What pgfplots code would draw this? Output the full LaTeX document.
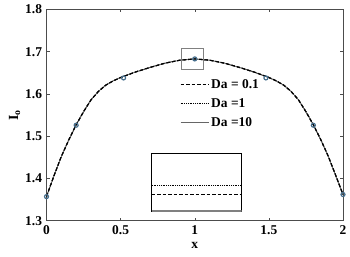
\documentclass[border=0pt]{standalone}
\usepackage{pgfplots}
\pgfplotsset{compat=1.18}
\usepackage{fontspec}
\setmainfont{Liberation Serif}
\definecolor{mk}{RGB}{70,110,140}
\pgfplotstableread{
x y
0 1.357
0.05 1.406
0.1 1.452
0.15 1.491
0.2 1.527
0.25 1.558
0.3 1.586
0.35 1.606
0.4 1.621
0.45 1.631
0.5 1.639
0.6 1.652
0.7 1.663
0.8 1.673
0.9 1.680
1.0 1.683
1.1 1.680
1.2 1.673
1.3 1.663
1.4 1.652
1.5 1.639
1.55 1.631
1.6 1.621
1.65 1.606
1.7 1.586
1.75 1.558
1.8 1.527
1.85 1.492
1.9 1.453
1.95 1.408
2.0 1.362
}\curve
\pgfplotstableread{
x y
0 1.357
0.2 1.526
0.52 1.638
1.0 1.683
1.48 1.638
1.8 1.526
2.0 1.362
}\marks
\begin{document}
\begin{tikzpicture}
\begin{axis}[
  name=main, at={(0,0)}, anchor=south west,
  scale only axis, width=296.5bp, height=211.2bp,
  xmin=0, xmax=2, ymin=1.3, ymax=1.8,
  xtick={0,0.5,1,1.5,2}, ytick={1.3,1.4,1.5,1.6,1.7,1.8},
  xticklabels={0,0.5,1,1.5,2},
  yticklabels={1.3,1.4,1.5,1.6,1.7,1.8},
  tick align=inside, major tick length=3bp,
  tick style={black!70, line width=0.5bp},
  axis line style={black!70, line width=0.7bp},
  ticklabel style={font=\fontsize{13.5}{15}\selectfont\bfseries},
  xticklabel style={yshift=-1bp},
  yticklabel style={xshift=-1bp},
  xlabel={\fontsize{13.5}{15}\selectfont\bfseries x},
  ylabel={\fontsize{14}{15}\selectfont\bfseries I$_{\mathbf{o}}$},
  xlabel style={yshift=-1bp},
  ylabel style={yshift=-2bp},
  legend style={draw=none, fill=none, at={(0.45,0.68)}, anchor=north west,
    font=\fontsize{13.5}{15}\selectfont\bfseries, row sep=4.5bp, inner sep=0pt},
  legend cell align=left,
  legend image code/.code={\draw[#1] (0bp,0bp) -- (28bp,0bp);},
]
\addplot[black, line width=1.1bp, dash pattern=on 3.5bp off 2bp] table {\curve};
\addlegendentry{Da = 0.1}
\addplot[black, line width=1bp, dash pattern=on 0.9bp off 0.9bp] table {\curve};
\addlegendentry{Da =1}
\addplot[black!60, line width=0.6bp] table {\curve};
\addlegendentry{Da =10}
\addplot[black, line width=1.1bp, dash pattern=on 3.5bp off 2bp, forget plot] table {\curve};
\addplot[only marks, mark=o, mark size=2bp, mark options={draw=mk, line width=1.2bp, fill=mk!40}, forget plot] table {\marks};
\draw[black!50, line width=0.6bp] (axis cs:0.912,1.658) rectangle (axis cs:1.061,1.708);
\end{axis}
\begin{axis}[
  at={(main.south west)}, anchor=south west,
  xshift=105.2bp, yshift=9bp,
  scale only axis, width=90bp, height=58.4bp,
  xmin=0.95, xmax=1.05, ymin=1.6820, ymax=1.6840,
  xtick=\empty, ytick=\empty,
  axis line style={black, line width=0.6bp},
  axis background/.style={fill=white},
]
\addplot[black!50, line width=1.4bp] coordinates {(0.95,1.68203) (1.05,1.68203)};
\addplot[black, line width=1.1bp, dash pattern=on 3.5bp off 2bp] coordinates {(0.95,1.68260) (1.05,1.68260)};
\addplot[black, line width=1bp, dash pattern=on 0.9bp off 0.9bp] coordinates {(0.95,1.68289) (1.05,1.68289)};
\end{axis}
\pgfresetboundingbox
\path[use as bounding box] (-46.5bp,-36.3bp) rectangle (303.5bp,220.7bp);
\end{tikzpicture}
\end{document}
